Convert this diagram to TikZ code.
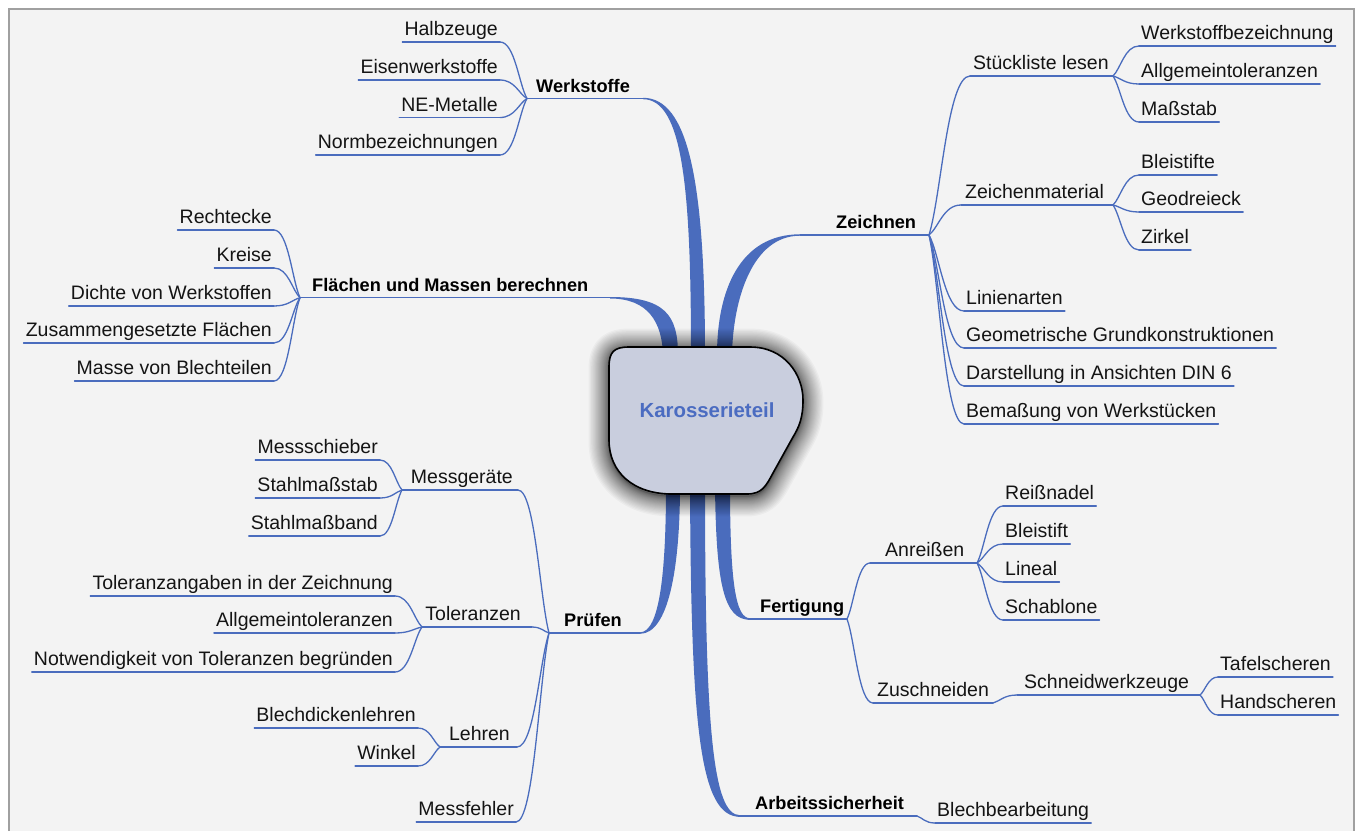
\documentclass[tikz,border=0pt]{standalone}
\usepackage{fontspec}
\setmainfont{Liberation Sans}
\usetikzlibrary{calc}
\definecolor{lineblue}{RGB}{74,108,189}
\definecolor{bgc}{RGB}{243,243,243}
\definecolor{framec}{RGB}{160,160,160}
\definecolor{centerfill}{RGB}{201,206,222}
\definecolor{centertext}{RGB}{75,108,193}
\newcommand\linkL[2]{\draw[thinline] let \p1=(#1), \p2=(#2) in (\p1) .. controls ({\x1+0.55*(\x2-\x1)},\y1) and ({\x2-0.3*(\x2-\x1)},{\y2+0.25*(\y1-\y2)}) .. (\p2);}
\newcommand\linkR[2]{\draw[thinline] let \p1=(#1), \p2=(#2) in (\p1) .. controls ({\x1+0.3*(\x2-\x1)},{\y1+0.25*(\y2-\y1)}) and ({\x2-0.55*(\x2-\x1)},\y2) .. (\p2);}
\newcommand\leafL[2]{\draw[thinline] (#1.south west) -- (#1.south east);\linkL{#1.south east}{#2}}
\newcommand\leafR[2]{\linkR{#1}{#2.south west}\draw[thinline] (#2.south west) -- (#2.south east);}
\newcommand\carpath{(609,367) .. controls (609,352) and (614,347) .. (629,347) -- (750,347) .. controls (785,347) and (803,375) .. (803,400) .. controls (803,418) and (799,427) .. (793,437) -- (773,473) .. controls (766,486) and (762,494) .. (747,494) -- (672,494) .. controls (633,494) and (609,472) .. (609,440) -- cycle}
\begin{document}
\begin{tikzpicture}[x=1pt,y=-1pt,
  thinline/.style={draw=lineblue, line width=1.3pt, line cap=round},
  taper/.style={fill=lineblue, draw=none},
  leaf/.style={font=\fontsize{19.5}{22}\selectfont, text=black!92, inner xsep=2pt, inner ysep=0pt, text height=14pt, text depth=6pt},
  topic/.style={font=\bfseries\fontsize{18.2}{21}\selectfont, text=black, inner xsep=2pt, inner ysep=0pt, text height=14pt, text depth=6pt},
  centerlabel/.style={font=\bfseries\fontsize{20.4}{24}\selectfont, text=centertext}]
\useasboundingbox (0,0) rectangle (1356,831);
\fill[white] (0,0) rectangle (1356,831);
\fill[bgc] (9,9) rectangle (1354,831);
\draw[framec, line width=2pt] (9,831) -- (9,9) -- (1354,9) -- (1354,831);

% branch coordinates
\coordinate (W) at (527,98.5);   \coordinate (werkE) at (643,98.5);
\coordinate (F) at (300,297.7);  \coordinate (flaechE) at (610,297.7);
\coordinate (Z) at (929,235);    \coordinate (zeichS) at (800,235);
\coordinate (P) at (549,633);    \coordinate (pruefE) at (640,633);
\coordinate (Fg) at (847,619);   \coordinate (fertS) at (748,619);
\coordinate (Ab) at (917,816);   \coordinate (arbeitS) at (738,816);
\coordinate (stueckS) at (970,76);  \coordinate (S1) at (1113,76);
\coordinate (zmatS) at (961,205);   \coordinate (S2) at (1113,205);
\coordinate (anrS) at (870,563);    \coordinate (A) at (977,563);
\coordinate (zusS) at (873,703);    \coordinate (zusE) at (993,703);
\coordinate (schnS) at (1017,695);  \coordinate (schnE) at (1200,695);
\coordinate (M) at (402,490);    \coordinate (messE) at (518,490);
\coordinate (T) at (422,627);    \coordinate (tolE) at (532,627);
\coordinate (L) at (440,747);    \coordinate (lehrE) at (517,747);

% tapered main branches
\fill[taper] (643,97.8) .. controls (688,97.8) and (705,180) .. (705,355) -- (691,355) .. controls (691,190) and (683,99.2) .. (643,99.2) -- cycle;
\fill[taper] (610,297) .. controls (665,297) and (678,315) .. (678,355) -- (663,355) .. controls (662,322) and (648,298.5) .. (610,298.5) -- cycle;
\fill[taper] (800,234.3) .. controls (740,234.3) and (717,290) .. (717,355) -- (732,355) .. controls (733,300) and (752,235.7) .. (800,235.7) -- cycle;
\fill[taper] (666,485) .. controls (666,570) and (660,632.3) .. (640,632.3) -- (640,633.8) .. controls (668,633.8) and (680,570) .. (680,485) -- cycle;
\fill[taper] (690,485) .. controls (691,730) and (700,816.8) .. (740,816.8) -- (740,815.2) .. controls (713,815.2) and (705,730) .. (705,485) -- cycle;
\fill[taper] (715,485) .. controls (716,585) and (724,619.8) .. (750,619.8) -- (750,618.2) .. controls (736,618.2) and (730,585) .. (730,485) -- cycle;

% soft shadow and central shape
\foreach \i in {1,2,...,30}{\draw[black, opacity=0.03, line width={\i*\i/22 pt}, line join=round, shift={(0,2)}] \carpath;}
\filldraw[fill=centerfill, draw=black, line width=1.6pt] \carpath;
\node[centerlabel] (center) at (707,410) {Karosserieteil};

% main topics
\node[topic, anchor=south west] (werk) at (534,98.5) {Werkstoffe};
\node[topic, anchor=south west] (flaech) at (310,297.7) {Flächen und Massen berechnen};
\node[topic, anchor=south west] (zeich) at (834,235) {Zeichnen};
\node[topic, anchor=south west] (pruef) at (562,633) {Prüfen};
\node[topic, anchor=south west] (fert) at (758,619) {Fertigung};
\node[topic, anchor=south west] (arbeit) at (753,816) {Arbeitssicherheit};

% left side leaves
\node[leaf, anchor=south east] (halb) at (500,42) {Halbzeuge};
\node[leaf, anchor=south east] (eisen) at (500,80) {Eisenwerkstoffe};
\node[leaf, anchor=south east] (nemet) at (500,117.5) {NE-Metalle};
\node[leaf, anchor=south east] (norm) at (500,155) {Normbezeichnungen};
\node[leaf, anchor=south east] (recht) at (274,230) {Rechtecke};
\node[leaf, anchor=south east] (kreise) at (274,268) {Kreise};
\node[leaf, anchor=south east] (dichte) at (274,306) {Dichte von Werkstoffen};
\node[leaf, anchor=south east] (zusges) at (274,343) {Zusammengesetzte Flächen};
\node[leaf, anchor=south east] (masse) at (274,381) {Masse von Blechteilen};
\node[leaf, anchor=south east] (mess) at (515,490) {Messgeräte};
\node[leaf, anchor=south east] (mschieb) at (380,460) {Messschieber};
\node[leaf, anchor=south east] (stahlst) at (380,498) {Stahlmaßstab};
\node[leaf, anchor=south east] (stahlb) at (380,536) {Stahlmaßband};
\node[leaf, anchor=south east] (tol) at (523,627) {Toleranzen};
\node[leaf, anchor=south east] (tolang) at (395,596) {Toleranzangaben in der Zeichnung};
\node[leaf, anchor=south east] (allgB) at (395,633) {Allgemeintoleranzen};
\node[leaf, anchor=south east] (notw) at (395,672) {Notwendigkeit von Toleranzen begründen};
\node[leaf, anchor=south east] (lehr) at (512,747) {Lehren};
\node[leaf, anchor=south east] (blechd) at (418,728) {Blechdickenlehren};
\node[leaf, anchor=south east] (winkel) at (418,766) {Winkel};
\node[leaf, anchor=south east] (messf) at (516,822) {Messfehler};

% right side leaves
\node[leaf, anchor=south west] (stueck) at (971,76) {Stückliste lesen};
\node[leaf, anchor=south west] (zmat) at (963,205) {Zeichenmaterial};
\node[leaf, anchor=south west] (wbez) at (1139,46) {Werkstoffbezeichnung};
\node[leaf, anchor=south west] (allgA) at (1139,84) {Allgemeintoleranzen};
\node[leaf, anchor=south west] (massst) at (1139,122) {Maßstab};
\node[leaf, anchor=south west] (bleiA) at (1139,175) {Bleistifte};
\node[leaf, anchor=south west] (geo) at (1139,212) {Geodreieck};
\node[leaf, anchor=south west] (zirk) at (1139,250) {Zirkel};
\node[leaf, anchor=south west] (linien) at (964,311) {Linienarten};
\node[leaf, anchor=south west] (geom) at (964,348) {Geometrische Grundkonstruktionen};
\node[leaf, anchor=south west] (darst) at (964,386) {Darstellung in Ansichten DIN 6};
\node[leaf, anchor=south west] (bemass) at (964,424) {Bemaßung von Werkstücken};
\node[leaf, anchor=south west] (anr) at (883,563) {Anreißen};
\node[leaf, anchor=south west] (reiss) at (1003,506) {Reißnadel};
\node[leaf, anchor=south west] (bleiB) at (1003,544) {Bleistift};
\node[leaf, anchor=south west] (lineal) at (1003,582) {Lineal};
\node[leaf, anchor=south west] (schab) at (1003,620) {Schablone};
\node[leaf, anchor=south west] (zus) at (875,703) {Zuschneiden};
\node[leaf, anchor=south west] (schn) at (1022,695) {Schneidwerkzeuge};
\node[leaf, anchor=south west] (tafel) at (1218,677) {Tafelscheren};
\node[leaf, anchor=south west] (hand) at (1218,715) {Handscheren};
\node[leaf, anchor=south west] (blech) at (935,823) {Blechbearbeitung};

% Werkstoffe
\draw[thinline] (W) -- (werkE);
\leafL{halb}{W} \leafL{eisen}{W} \leafL{nemet}{W} \leafL{norm}{W}
% Flaechen
\draw[thinline] (F) -- (flaechE);
\leafL{recht}{F} \leafL{kreise}{F} \leafL{dichte}{F} \leafL{zusges}{F} \leafL{masse}{F}
% Zeichnen
\draw[thinline] (zeichS) -- (Z);
\linkR{Z}{stueckS} \draw[thinline] (stueckS) -- (S1);
\leafR{S1}{wbez} \leafR{S1}{allgA} \leafR{S1}{massst}
\linkR{Z}{zmatS} \draw[thinline] (zmatS) -- (S2);
\leafR{S2}{bleiA} \leafR{S2}{geo} \leafR{S2}{zirk}
\leafR{Z}{linien} \leafR{Z}{geom} \leafR{Z}{darst} \leafR{Z}{bemass}
% Pruefen
\draw[thinline] (P) -- (pruefE);
\draw[thinline] (M) -- (messE); \linkL{messE}{P}
\leafL{mschieb}{M} \leafL{stahlst}{M} \leafL{stahlb}{M}
\draw[thinline] (T) -- (tolE); \linkL{tolE}{P}
\leafL{tolang}{T} \leafL{allgB}{T} \leafL{notw}{T}
\draw[thinline] (L) -- (lehrE); \linkL{lehrE}{P}
\leafL{blechd}{L} \leafL{winkel}{L}
\leafL{messf}{P}
% Fertigung
\draw[thinline] (fertS) -- (Fg);
\linkR{Fg}{anrS} \draw[thinline] (anrS) -- (A);
\leafR{A}{reiss} \leafR{A}{bleiB} \leafR{A}{lineal} \leafR{A}{schab}
\linkR{Fg}{zusS} \draw[thinline] (zusS) -- (zusE);
\linkR{zusE}{schnS} \draw[thinline] (schnS) -- (schnE);
\leafR{schnE}{tafel} \leafR{schnE}{hand}
% Arbeitssicherheit
\draw[thinline] (arbeitS) -- (Ab);
\leafR{Ab}{blech}
\end{tikzpicture}
\end{document}
